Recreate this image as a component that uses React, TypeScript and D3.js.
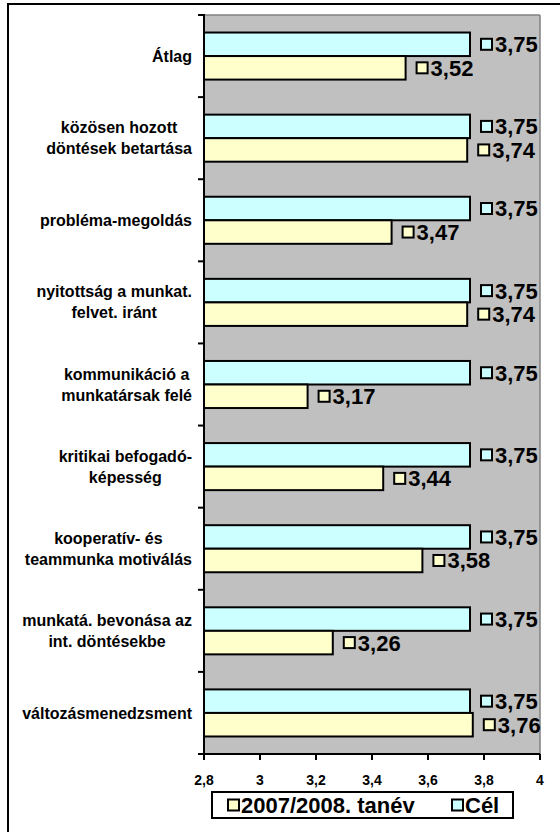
import React from "react";
import * as d3 from "d3";

const categories: string[][] = [
  ["Átlag"],
  ["közösen hozott", "döntések betartása"],
  ["probléma-megoldás"],
  ["nyitottság a munkat.", "felvet. iránt"],
  ["kommunikáció a", "munkatársak felé"],
  ["kritikai befogadó-", "képesség"],
  ["kooperatív- és", "teammunka motiválás"],
  ["munkatá. bevonása az", "int. döntésekbe"],
  ["változásmenedzsment"],
];
const values2007: number[] = [3.52, 3.74, 3.47, 3.74, 3.17, 3.44, 3.58, 3.26, 3.76];
const valuesCel: number[] = [3.75, 3.75, 3.75, 3.75, 3.75, 3.75, 3.75, 3.75, 3.75];
const seriesNames: string[] = ["2007/2008. tanév", "Cél"];
const xTicks: number[] = [2.8, 3, 3.2, 3.4, 3.6, 3.8, 4];

const FONT = "'Liberation Sans', Arial, Helvetica, sans-serif";
const C_YELLOW = "#FFFFCC";
const C_CYAN = "#CCFFFF";

let ctx: CanvasRenderingContext2D | null = null;
function measure(text: string, font: string): number {
  if (!ctx) {
    const c = document.createElement("canvas");
    ctx = c.getContext("2d");
  }
  if (!ctx) return text.length * 8;
  ctx.font = font;
  return ctx.measureText(text).width;
}

const fmt = (v: number) => d3.format(".2f")(v).replace(".", ",");
const tickFmt = (v: number) => String(Math.round(v * 10) / 10).replace(".", ",");

export default function App() {
  const W = 560, H = 832;
  const left = 204, right = 540, top = 15, bottom = 754;
  const x = d3.scaleLinear().domain([2.8, 4]).range([left, right]);
  const keys = categories.map((_, i) => String(i));
  const y = d3.scaleBand<string>().domain(keys).range([top, bottom]).padding(0);
  const bw = y.bandwidth();
  const groupH = bw * 47 / 82;
  const inner = d3.scaleBand<string>().domain(["cel", "y2007"]).range([0, groupH]).padding(0);
  const barH = inner.bandwidth();

  const labelFont = `bold 16px ${FONT}`;
  const lineH = 21;

  return (
    <svg width={W} height={H} style={{ position: "absolute", left: 0, top: 0 }} fontFamily={FONT}>
      <rect x={0} y={0} width={W} height={H} fill="#fff" />
      <rect x={8} y={4} width={700} height={1000} fill="#fff" stroke="#000" strokeWidth={2} />
      {/* plot area */}
      <rect x={left} y={top} width={right - left} height={bottom - top} fill="#C0C0C0" />
      <line x1={left} y1={top} x2={right} y2={top} stroke="#808080" strokeWidth={1.5} />
      <line x1={right} y1={top} x2={right} y2={bottom} stroke="#808080" strokeWidth={1.5} />

      {categories.map((lines, i) => {
        const k = String(i);
        const y0 = (y(k) as number) + (bw - groupH) / 2;
        const cy = (y(k) as number) + bw / 2;
        const maxW = Math.max(...lines.map((l) => measure(l, labelFont)));
        const cx = 192 - maxW / 2;
        const firstY = cy - ((lines.length - 1) * lineH) / 2;
        const bars = [
          { key: "cel", v: valuesCel[i], fill: C_CYAN },
          { key: "y2007", v: values2007[i], fill: C_YELLOW },
        ];
        return (
          <g key={k}>
            <text textAnchor="middle" fontSize={16} fontWeight="bold" fill="#000">
              {lines.map((l, j) => (
                <tspan key={j} x={cx} y={firstY + j * lineH} dy="0.35em">{l}</tspan>
              ))}
            </text>
            {bars.map((b) => {
              const by = y0 + (inner(b.key) as number);
              const xe = x(b.v);
              return (
                <g key={b.key}>
                  <rect x={left} y={by} width={xe - left} height={barH} fill={b.fill} stroke="#000" strokeWidth={2} />
                  <rect x={xe + 11} y={by + barH / 2 - 5.5} width={11} height={11} fill={b.fill} stroke="#000" strokeWidth={2} />
                  <text x={xe + 25} y={by + barH / 2} dy="0.36em" fontSize={22} fontWeight="bold" fill="#000">{fmt(b.v)}</text>
                </g>
              );
            })}
          </g>
        );
      })}

      {/* y axis */}
      <line x1={left} y1={top - 1} x2={left} y2={bottom + 6} stroke="#000" strokeWidth={2} />
      {[...keys.map((k) => y(k) as number), bottom].map((ty, i) => (
        <line key={i} x1={left - 6} y1={ty} x2={left} y2={ty} stroke="#000" strokeWidth={2} />
      ))}
      {/* x axis */}
      <line x1={left - 6} y1={bottom} x2={right} y2={bottom} stroke="#000" strokeWidth={2} />
      {xTicks.map((t) => (
        <g key={t}>
          <line x1={x(t)} y1={bottom} x2={x(t)} y2={bottom + 6} stroke="#000" strokeWidth={2} />
          <text x={x(t)} y={780} dy="0.35em" textAnchor="middle" fontSize={14} fontWeight="bold">{tickFmt(t)}</text>
        </g>
      ))}

      {/* legend */}
      <rect x={212} y={792} width={301} height={26} fill="#fff" stroke="#000" strokeWidth={2} />
      <rect x={228} y={799.5} width={11} height={11} fill={C_YELLOW} stroke="#000" strokeWidth={2} />
      <text x={241} y={805} dy="0.36em" fontSize={22} fontWeight="bold">{seriesNames[0]}</text>
      <rect x={452} y={799.5} width={11} height={11} fill={C_CYAN} stroke="#000" strokeWidth={2} />
      <text x={465} y={805} dy="0.36em" fontSize={22} fontWeight="bold">{seriesNames[1]}</text>
    </svg>
  );
}
